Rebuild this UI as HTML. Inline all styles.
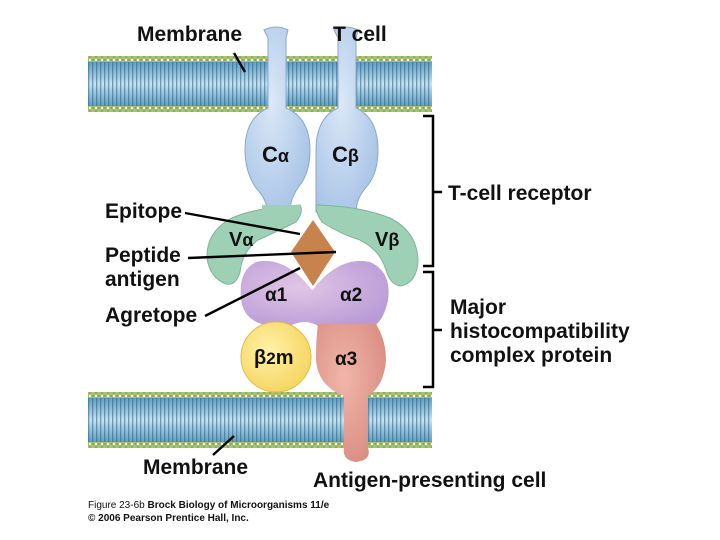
<!DOCTYPE html>
<html><head><style>
html,body{margin:0;padding:0;background:#fff;}
svg{display:block;}
text{font-family:"Liberation Sans",sans-serif;font-weight:bold;fill:#111;}
</style></head><body>
<svg width="720" height="540" viewBox="0 0 720 540">
<defs>
<linearGradient id="mem" x1="0" y1="0" x2="0" y2="1">
<stop offset="0" stop-color="#5f9fc2"/><stop offset="0.5" stop-color="#c4e2f2"/><stop offset="1" stop-color="#5f9fc2"/>
</linearGradient>
<pattern id="str" width="4" height="10" patternUnits="userSpaceOnUse">
<rect x="0" y="0" width="1.3" height="10" fill="#2f5f80" opacity="0.55"/>
</pattern>
<pattern id="dots" width="6" height="6" patternUnits="userSpaceOnUse">
<circle cx="3" cy="3" r="2.8" fill="#a9c46e" stroke="#7a9a45" stroke-width="0.6"/>
</pattern>
<radialGradient id="blue" cx="0.4" cy="0.4" r="0.7"><stop offset="0" stop-color="#dbe8f7"/><stop offset="1" stop-color="#a6c2e6"/></radialGradient>
<radialGradient id="pur" cx="0.4" cy="0.4" r="0.7"><stop offset="0" stop-color="#e2c6e6"/><stop offset="1" stop-color="#b79ad6"/></radialGradient>
<radialGradient id="pink" cx="0.4" cy="0.4" r="0.7"><stop offset="0" stop-color="#f0b6aa"/><stop offset="1" stop-color="#d98a80"/></radialGradient>
<radialGradient id="yel" cx="0.4" cy="0.4" r="0.7"><stop offset="0" stop-color="#fff2a8"/><stop offset="1" stop-color="#f5d25a"/></radialGradient>
</defs>

<g>
<rect x="88" y="62" width="344" height="44" fill="url(#mem)"/>
<rect x="88" y="62" width="344" height="44" fill="url(#str)"/>
<rect x="88" y="56" width="344" height="6" fill="url(#dots)"/>
<rect x="88" y="106" width="344" height="6" fill="url(#dots)"/>
<rect x="88" y="398" width="344" height="44" fill="url(#mem)"/>
<rect x="88" y="398" width="344" height="44" fill="url(#str)"/>
<rect x="88" y="392" width="344" height="6" fill="url(#dots)"/>
<rect x="88" y="442" width="344" height="6" fill="url(#dots)"/>
</g>

<path d="M264,30 Q276,24 288,30 L286,38 L286,108 Q310,118 310,150 Q310,172 300,185 Q290,198 290,212 L268,212 Q266,198 256,188 Q245,172 245,150 Q245,118 268,108 L268,38 Z" fill="url(#blue)" stroke="#8aa9cf" stroke-width="1"/>
<path d="M334,30 Q346,24 358,30 L356,38 L356,108 Q378,118 378,150 Q378,172 368,185 Q356,198 356,212 L316,212 L316,150 Q316,118 338,108 L338,38 Z" fill="url(#blue)" stroke="#8aa9cf" stroke-width="1"/>

<path d="M300,205 Q304,212 296,222 Q276,232 258,240 Q242,252 240,272 Q236,286 226,284 Q210,278 207,258 Q206,234 228,220 Q250,208 300,205 Z" fill="#9ed0b6" stroke="#7db59a" stroke-width="1"/>
<path d="M262,205 L300,205 L300,212 L262,212 Z" fill="#9ed0b6"/>
<path d="M316,205 Q360,206 390,218 Q418,232 418,262 Q416,284 400,286 Q390,284 386,270 Q380,250 360,240 Q340,234 322,222 Q316,214 316,205 Z" fill="#9ed0b6" stroke="#7db59a" stroke-width="1"/>

<path d="M256,262 Q285,255 312,290 Q340,255 370,262 Q392,272 388,300 Q384,320 374,326 L318,326 Q305,318 290,326 Q250,330 242,305 Q236,272 256,262 Z" fill="url(#pur)"/>
<path d="M318,324 L376,324 Q386,340 386,360 Q384,386 368,396 L368,448 Q372,460 356,462 Q342,460 344,448 L344,396 Q318,386 316,360 Q316,338 318,324 Z" fill="url(#pink)"/>
<circle cx="276" cy="357" r="35" fill="url(#yel)" stroke="#e0bc4a" stroke-width="1"/>

<polygon points="313,216 288,252 313,290 338,252" fill="#fff"/>
<polygon points="313,220 291,252 313,286 335,252" fill="#c8834c"/>

<g stroke="#000" stroke-width="2.4">
<line x1="185" y1="213" x2="300" y2="234"/>
<line x1="188" y1="258" x2="336" y2="252"/>
<line x1="205" y1="316" x2="300" y2="268"/>
<line x1="234" y1="53" x2="245" y2="72"/>
<line x1="213" y1="455" x2="234" y2="436"/>
</g>

<g stroke="#000" stroke-width="2.5" fill="none">
<polyline points="423,116 433,116 433,266 423,266"/>
<line x1="433" y1="192" x2="442" y2="192"/>
<polyline points="423,272 433,272 433,387 423,387"/>
<line x1="433" y1="330" x2="442" y2="330"/>
</g>

<text x="262" y="162" font-size="22">C<tspan font-size="18">α</tspan></text>
<text x="332" y="162" font-size="22">C<tspan font-size="18">β</tspan></text>
<text x="229" y="246" font-size="20">V<tspan font-size="18">α</tspan></text>
<text x="375" y="246" font-size="20">V<tspan font-size="18">β</tspan></text>
<text x="265" y="301" font-size="19">α1</text>
<text x="340" y="301" font-size="19">α2</text>
<text x="254" y="364" font-size="20">β<tspan font-size="17">2</tspan>m</text>
<text x="335" y="365" font-size="19">α3</text>

<text x="137" y="41" font-size="21">Membrane</text>
<text x="333" y="41" font-size="21">T cell</text>
<text x="105" y="218" font-size="21">Epitope</text>
<text x="105" y="262" font-size="21">Peptide</text>
<text x="105" y="286" font-size="21">antigen</text>
<text x="105" y="322" font-size="21">Agretope</text>
<text x="143" y="474" font-size="21">Membrane</text>
<text x="313" y="487" font-size="21">Antigen-presenting cell</text>
<text x="448" y="200" font-size="21">T-cell receptor</text>
<text x="450" y="314" font-size="21">Major</text>
<text x="450" y="338" font-size="21">histocompatibility</text>
<text x="450" y="362" font-size="21">complex protein</text>
<text x="88" y="508" font-size="10" style="font-weight:normal">Figure 23-6b <tspan font-weight="bold">Brock Biology of Microorganisms 11/e</tspan></text>
<text x="88" y="521" font-size="10">© 2006 Pearson Prentice Hall, Inc.</text>
</svg>
</body></html>
